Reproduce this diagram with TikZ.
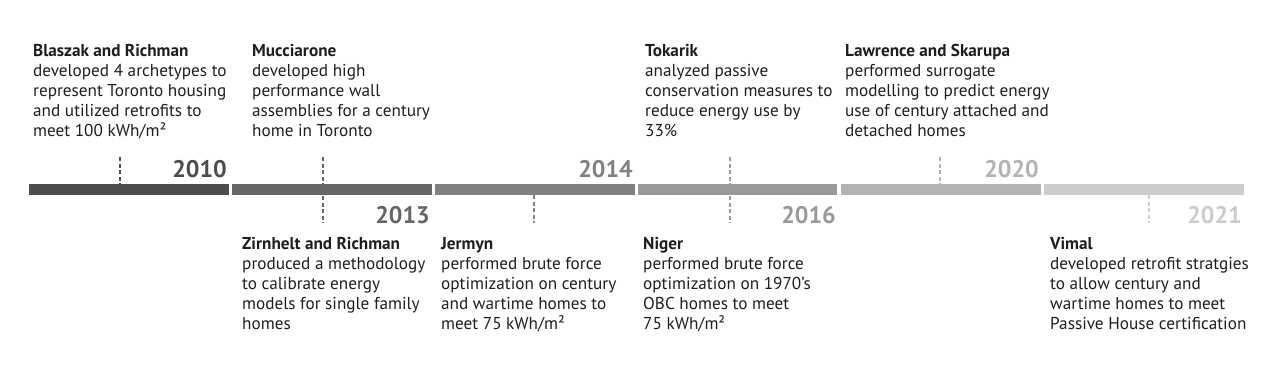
\documentclass[tikz,border=0pt]{standalone}
\usepackage{fontspec}
\setmainfont{PT Sans}
\usepackage{tikz}

\definecolor{segA}{RGB}{77,77,77}
\definecolor{segB}{RGB}{102,102,102}
\definecolor{segC}{RGB}{128,128,128}
\definecolor{segD}{RGB}{153,153,153}
\definecolor{segE}{RGB}{179,179,179}
\definecolor{segF}{RGB}{204,204,204}
\definecolor{bodytxt}{RGB}{30,30,30}

\begin{document}
\begin{tikzpicture}[x=1pt,y=1pt,yscale=-1,xscale=1,
  entry/.style={anchor=north west,inner sep=0pt,align=left,text=bodytxt,font=\fontsize{17.2}{20}\selectfont},
  yearlbl/.style={anchor=base east,inner sep=0pt,font=\fontsize{24}{24}\selectfont\bfseries},
  tick/.style={line width=1.6pt,dash pattern=on 4pt off 2.5pt}]
\useasboundingbox (0,0) rectangle (1284,372);
%Dashed ticks
\draw [tick,color=segA] (120,157) -- (120,184) ;
\draw [tick,color=segB] (323,157) -- (323,223) ;
\draw [tick,color=segC] (534,195) -- (534,223) ;
\draw [tick,color=segD] (730,157) -- (730,223) ;
\draw [tick,color=segE] (940,157) -- (940,184) ;
\draw [tick,color=segF] (1149,195) -- (1149,223) ;
%Shape: Rectangle
\fill [segA] (29,184) rectangle (229,195) ;
\fill [segB] (231.5,184) rectangle (432,195) ;
\fill [segC] (435,184) rectangle (635,195) ;
\fill [segD] (637.5,184) rectangle (837,195) ;
\fill [segE] (841,184) rectangle (1041,195) ;
\fill [segF] (1044,184) rectangle (1244,195) ;
% Year labels
\node [yearlbl,text=segA] (y2010) at (227,177) {2010};
\node [yearlbl,text=segB] (y2013) at (430,223) {2013};
\node [yearlbl,text=segC] (y2014) at (633,177) {2014};
\node [yearlbl,text=segD] (y2016) at (836,223) {2016};
\node [yearlbl,text=segE] (y2020) at (1039,177) {2020};
\node [yearlbl,text=segF] (y2021) at (1242,223) {2021};
% Text Node
\node [entry] (blaszak) at (33,44) {\textbf{Blaszak and Richman}\\developed 4 archetypes to\\represent Toronto housing\\and utilized retrofits to\\meet 100 kWh/m²};
% Text Node
\node [entry] (mucc) at (252,44) {\textbf{Mucciarone}\\developed high\\performance wall\\assemblies for a century\\home in Toronto};
% Text Node
\node [entry] (tokarik) at (645,44) {\textbf{Tokarik}\\analyzed passive\\conservation measures to\\reduce energy use by\\33\%};
% Text Node
\node [entry] (lawrence) at (845,44) {\textbf{Lawrence and Skarupa}\\performed surrogate\\modelling to predict energy\\use of century attached and\\detached homes};
% Text Node
\node [entry] (zirnhelt) at (242,237) {\textbf{Zirnhelt and Richman}\\produced a methodology\\to calibrate energy\\models for single family\\homes};
% Text Node
\node [entry] (jermyn) at (441,237) {\textbf{Jermyn}\\performed brute force\\optimization on century\\and wartime homes to\\meet 75 kWh/m²};
% Text Node
\node [entry] (niger) at (643,237) {\textbf{Niger}\\performed brute force\\optimization on 1970’s\\OBC homes to meet\\75 kWh/m²};
% Text Node
\node [entry] (vimal) at (1050,237) {\textbf{Vimal}\\developed retrofit stratgies\\to allow century and\\wartime homes to meet\\Passive House certification};
\end{tikzpicture}
\end{document}
